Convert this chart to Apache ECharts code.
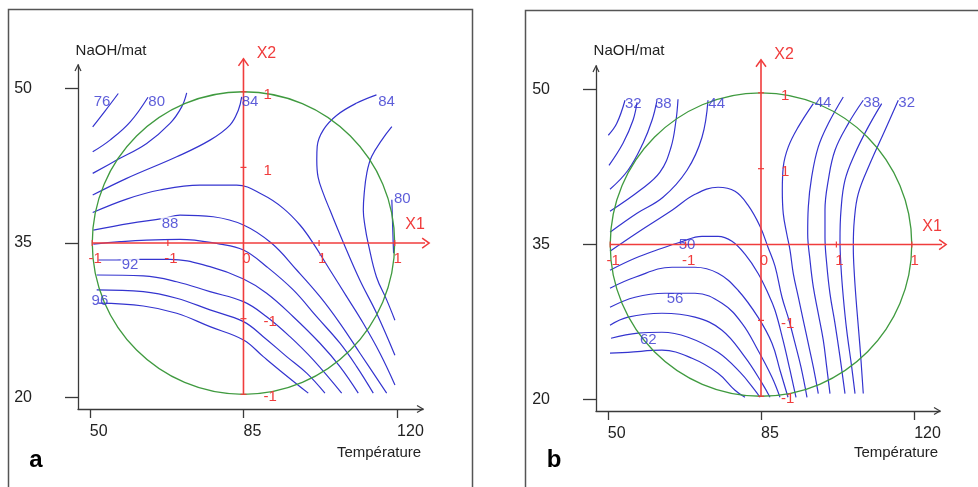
<!DOCTYPE html>
<html><head><meta charset="utf-8">
<script src="https://cdn.jsdelivr.net/npm/echarts@6/dist/echarts.min.js"></script>
<style>html,body{margin:0;padding:0;background:#fff;}#c{width:978px;height:487px;}</style>
</head><body><div id="c"></div>
<script>
// ===== DATA (natural units: Température, NaOH/mat) =====
const xTicks = [50, 85, 120];
const yTicks = [20, 35, 50];
const codedTicks = [-1, -0.5, 0, 0.5, 1];
const codedLabelsX1 = ['-1', '-1', '0', '1', '1'];
const codedLabelsX2 = ['-1', '-1', '0', '1', '1'];
const designCenter = [85, 35];
const designRadius = [34.45, 14.7];

// panel a contours
const a76 = [[50.65,46.29],[53.45,47.82],[56.48,49.53]];
const a80 = [[50.65,43.86],[54.59,45.0],[59.15,46.75],[63.25,49.17]];
const a82 = [[50.65,41.77],[56.12,43.06],[62.95,44.68],[68.26,46.62],[70.92,48.23],[72.06,49.6]];
const a84 = [[50.65,39.66],[58.39,41.28],[69.78,43.38],[77.37,45.0],[81.92,46.46],[83.82,47.91],[84.59,49.2]];
const a86 = [[50.65,37.96],[58.39,39.27],[65.98,40.15],[75.09,40.63],[83.45,40.63],[89.51,39.66],[94.07,38.37],[97.87,36.75],[100.9,34.97],[104.7,32.38],[108.51,29.79],[112.29,27.2],[116.09,24.29],[119.51,21.21]];
const a88 = [[50.79,36.26],[59.15,36.91],[66.73,37.4],[70.54,37.72],[78.12,37.55],[85.0,36.75],[91.42,34.97],[97.12,32.38],[102.43,29.79],[106.98,27.2],[111.54,24.29],[117.62,20.41]];
const a90 = [[50.79,34.9],[56.87,35.13],[62.95,35.29],[70.54,35.36],[79.65,34.9],[85.0,34.32],[90.28,32.7],[96.34,30.44],[101.67,27.84],[106.98,25.26],[110.79,22.99],[114.57,20.41]];
const a92 = [[51.92,33.35],[56.12,33.35],[61.42,33.42],[68.26,33.42],[77.37,32.7],[85.0,31.5],[90.28,30.12],[96.34,27.84],[102.43,25.26],[106.98,22.99],[111.15,20.41]];
const a94 = [[51.56,31.89],[62.18,31.8],[69.78,31.24],[77.37,30.27],[85.0,29.3],[90.28,27.84],[95.59,25.9],[100.9,23.64],[107.37,20.41]];
const a96 = [[51.56,30.44],[62.18,30.27],[69.78,29.63],[77.37,28.5],[85.0,27.36],[89.51,25.9],[94.84,23.96],[99.4,22.35],[103.56,20.41]];
const a98 = [[51.92,29.15],[62.18,28.88],[69.78,28.17],[77.37,26.87],[85.0,25.58],[89.51,23.96],[94.07,22.35],[99.76,20.41]];
const aR84 = [[115.3,49.4],[110.8,48.6],[106.2,47.4],[103.2,46.0],[101.8,44.4],[101.7,43.1],[102.0,41.4],[103.2,39.8],[104.7,38.2],[107.7,35.1],[111.5,31.4],[115.3,28.2],[119.5,24.1]];
const aR82 = [[118.8,46.3],[116.5,45.0],[114.2,43.4],[113.1,41.8],[112.5,39.8],[112.3,38.2],[112.7,36.6],[113.4,35.0],[115.3,31.7],[117.6,29.5],[119.5,27.5]];
const aR80 = [[118.8,39.2],[119.1,35.1],[119.2,34.0]];
const aLabels = [[52.77,48.69,'76'],[65.23,48.72,'80'],[86.5,48.69,'84'],[117.6,48.7,'84'],[121.17,39.34,'80'],[68.26,36.84,'88'],[59.15,32.86,'92'],[52.3,29.37,'96']];

// panel b contours
const b32 = [[50.11,45.59],[52.03,46.72],[53.93,48.98]];
const b35 = [[50.27,42.68],[53.47,44.82],[55.76,47.04],[56.67,48.79]];
const b38 = [[50.5,40.36],[54.61,42.2],[58.04,44.82],[60.1,47.04],[61.24,48.98]];
const b41 = [[50.5,38.23],[57.36,40.26],[61.92,42.01],[64.44,44.43],[65.58,47.04],[66.04,49.08]];
const b44 = [[50.5,36.19],[56.67,38.03],[62.61,39.58],[68.09,42.2],[71.52,45.4],[72.89,48.98]];
const b47 = [[50.5,34.35],[56.9,36.19],[64.67,38.32],[69.92,39.87],[75.18,40.55],[79.06,40.16],[82.03,38.81],[84.77,36.77],[86.6,34.74],[88.2,32.9],[89.8,29.89],[91.4,27.66],[92.77,25.44],[94.14,23.11],[95.51,20.2]];
const b50 = [[50.5,32.51],[56.21,33.67],[62.38,34.64],[66.49,35.22],[71.52,35.8],[75.18,35.8],[78.37,35.32],[81.34,34.06],[84.31,32.22],[86.6,30.28],[88.2,28.63],[90.03,25.73],[91.63,22.82],[93.0,20.2]];
const b53 = [[50.5,30.77],[56.21,31.83],[64.67,32.8],[69.92,32.8],[75.18,32.22],[79.75,30.57],[84.31,27.96],[87.51,25.44],[89.34,22.82],[91.17,20.2]];
const b56 = [[50.5,28.92],[56.21,29.89],[63.07,30.28],[69.92,30.28],[76.09,29.31],[80.66,27.37],[84.31,24.76],[87.51,22.14],[89.34,20.2]];
const b59 = [[50.5,27.18],[54.61,27.96],[62.38,28.34],[69.92,27.96],[76.09,26.7],[81.34,24.09],[85.23,21.57],[87.06,20.2]];
const b62 = [[50.73,25.92],[56.9,26.41],[62.38,26.5],[68.32,26.02],[75.18,24.56],[80.2,22.63],[83.63,20.88],[84.77,20.2]];
const b65 = [[50.5,24.47],[54.61,24.56],[62.38,24.76],[69.24,23.98],[75.18,22.53],[79.06,20.88],[81.34,20.2]];
const bR44 = [[96.95,48.66],[93.52,46.4],[91.24,44.46],[90.09,42.52],[89.87,40.26],[90.09,38.0],[90.87,36.07],[91.63,34.45],[92.38,32.19],[93.52,29.92],[94.66,27.66],[95.81,25.4],[96.95,23.14],[98.09,20.56]];
const bR41 = [[103.8,49.3],[100.38,46.72],[98.09,44.46],[96.58,41.55],[95.81,38.64],[95.67,36.07],[96.2,33.48],[96.95,30.89],[98.09,28.31],[99.23,25.73],[100.01,23.14],[100.76,20.56]];
const bR38 = [[108.37,48.98],[104.95,46.72],[101.91,44.14],[100.38,41.24],[99.62,38.33],[99.62,35.74],[100.01,33.16],[100.76,30.25],[101.91,27.34],[103.05,24.11],[104.19,20.56]];
const bR35 = [[112.58,48.66],[109.51,46.4],[106.48,43.82],[104.19,41.24],[103.28,38.33],[103.05,35.42],[103.28,32.83],[103.8,29.92],[104.58,26.7],[105.72,23.14],[106.48,20.56]];
const bR32 = [[116.37,48.98],[113.33,46.08],[109.9,42.85],[107.23,39.94],[106.32,37.35],[106.09,34.77],[106.32,32.19],[106.86,28.95],[107.62,25.08],[108.37,20.56]];
const bLabels = [[55.82,48.66,'32'],[62.68,48.66,'38'],[74.88,48.66,'44'],[99.17,48.69,'44'],[110.29,48.72,'38'],[118.29,48.72,'32'],[68.09,34.93,'50'],[65.35,29.77,'56'],[59.25,25.73,'62']];

// red coded axes (natural units)
const redX1 = [[50.6,35],[127.3,35]];
const redX2 = [[85,20.3],[85,52.9]];

const panelTitles = ['a', 'b'];
const xName = 'Température';
const yName = 'NaOH/mat';

// ===== STYLE / LAYOUT =====
const BLUE = '#3434cf', RED = '#f03c3c', GREEN = '#3f9a3f', AX = '#3a3a3a';
const FONT = '"Liberation Sans", Arial, sans-serif';
const panels = [
  {grid:{left:78, top:65, width:345, height:344}, lines:[a76,a80,a82,a84,a86,a88,a90,a92,a94,a96,a98,aR84,aR82,aR80], labels:aLabels, gapLabels:['88','92']},
  {grid:{left:596, top:66, width:344, height:345}, lines:[b32,b35,b38,b41,b44,b47,b50,b53,b56,b59,b62,b65,bR44,bR41,bR38,bR35,bR32], labels:bLabels, gapLabels:[]}
];

const chart = echarts.init(document.getElementById('c'));
const series = [];
panels.forEach((p, gi) => {
  p.lines.forEach(d => series.push({
    type:'line', xAxisIndex:gi, yAxisIndex:gi, data:d, symbol:'none', smooth:0.4,
    lineStyle:{color:BLUE, width:1.2}, silent:true, z:2
  }));
  series.push({type:'line', xAxisIndex:gi, yAxisIndex:gi, data:redX1, symbol:'none', clip:false, lineStyle:{color:RED, width:1.6}, silent:true, z:4});
  series.push({type:'line', xAxisIndex:gi, yAxisIndex:gi, data:redX2, symbol:'none', clip:false, lineStyle:{color:RED, width:1.6}, silent:true, z:4});
  series.push({
    type:'scatter', xAxisIndex:gi, yAxisIndex:gi, symbolSize:1, itemStyle:{color:'rgba(0,0,0,0)'}, silent:true, z:6,
    data:p.labels.map(l => ({value:[l[0], l[1]], name:l[2], label:{backgroundColor: p.gapLabels.includes(l[2]) ? '#fff' : 'transparent'}})),
    label:{show:true, position:'inside', formatter:q => q.name, color:BLUE, fontSize:15, fontFamily:FONT, padding:[0,1]}
  });
});

chart.setOption({
  animation:false,
  backgroundColor:'#fff',
  grid: panels.map(p => p.grid),
  xAxis: panels.map((p, gi) => ({
    type:'value', gridIndex:gi, min:47.3, max:125.9,
    axisLine:{show:true, onZero:false, lineStyle:{color:AX, width:1.3}},
    axisTick:{show:true, customValues:xTicks, length:9, lineStyle:{color:AX, width:1.3}},
    axisLabel:{show:true, customValues:xTicks, margin:15, fontSize:16, color:'#222', fontFamily:FONT, align:'left'},
    splitLine:{show:false}
  })),
  yAxis: panels.map((p, gi) => ({
    type:'value', gridIndex:gi, min:18.87, max:52.3,
    axisLine:{show:true, onZero:false, lineStyle:{color:AX, width:1.3}},
    axisTick:{show:true, customValues:yTicks, length:13, lineStyle:{color:AX, width:1.3}},
    axisLabel:{show:true, customValues:yTicks, margin:46, fontSize:16, color:'#222', fontFamily:FONT},
    splitLine:{show:false}
  })),
  series
});

// ===== decorations positioned through the axes =====
const toPx = (gi, pt) => chart.convertToPixel({gridIndex:gi}, pt);
const coded = (u, v) => [designCenter[0] + u * designRadius[0], designCenter[1] + v * designRadius[1]];
const g = [];
const txt = (x, y, text, color, size, extra) => Object.assign({type:'text', x, y, z:10, style:Object.assign({text, fill:color, font:size + 'px ' + FONT, align:'center', verticalAlign:'middle', textAlign:'center', textVerticalAlign:'middle'}, extra || {})});
const poly = (pts, color, w) => ({type:'polyline', z:10, shape:{points:pts}, style:{stroke:color, lineWidth:w, fill:'none'}});

g.push({type:'rect', z:0, shape:{x:8.5, y:9.5, width:464, height:500}, style:{fill:'none', stroke:'#555', lineWidth:1.5}});
g.push({type:'rect', z:0, shape:{x:525.5, y:10.5, width:500, height:500}, style:{fill:'none', stroke:'#555', lineWidth:1.5}});

panels.forEach((p, gi) => {
  const c = toPx(gi, designCenter);
  const e = toPx(gi, coded(1, 1));
  g.push({type:'ellipse', z:3, shape:{cx:c[0], cy:c[1], rx:e[0]-c[0], ry:c[1]-e[1]}, style:{fill:'none', stroke:GREEN, lineWidth:1.3}});
  const t2 = toPx(gi, redX2[1]);
  g.push(poly([[t2[0]-5, t2[1]+7], [t2[0], t2[1]], [t2[0]+5, t2[1]+7]], RED, 1.5));
  const t1 = toPx(gi, redX1[1]);
  g.push(poly([[t1[0]-7, t1[1]-5], [t1[0], t1[1]], [t1[0]-7, t1[1]+5]], RED, 1.5));
  g.push(txt(t2[0]+23, t2[1]-5, 'X2', RED, 16));
  g.push(txt(t1[0]-14, t1[1]-18, 'X1', RED, 16));
  codedTicks.forEach((u, i) => {
    const q = toPx(gi, coded(u, 0));
    if (u !== 0) g.push(poly([[q[0], q[1]-3], [q[0], q[1]+3]], RED, 1.2));
    g.push(txt(q[0]+3, q[1]+16, codedLabelsX1[i], RED, 15));
    const r = toPx(gi, coded(0, u));
    if (u !== 0) {
      g.push(poly([[r[0]-3, r[1]], [r[0]+3, r[1]]], RED, 1.2));
      g.push(txt(r[0]+20, r[1]+3, codedLabelsX2[i], RED, 15, {align:'left', textAlign:'left'}));
    }
  });
  const o = toPx(gi, [47.3, 52.3]);
  g.push(poly([[o[0]-3, o[1]+6], [o[0], o[1]], [o[0]+3, o[1]+6]], AX, 1.2));
  const xe = toPx(gi, [125.9, 18.87]);
  g.push(poly([[xe[0]-6, xe[1]-3.5], [xe[0], xe[1]], [xe[0]-6, xe[1]+3.5]], AX, 1.2));
  g.push(txt(o[0]+33, 51, yName, '#222', 15));
  g.push(txt(xe[0]-44, 453, xName, '#222', 15));
  g.push(txt(o[0]-42, 460, panelTitles[gi], '#000', 24, {font:'bold 24px ' + FONT}));
});
chart.setOption({graphic:{elements:g}});
</script></body></html>
